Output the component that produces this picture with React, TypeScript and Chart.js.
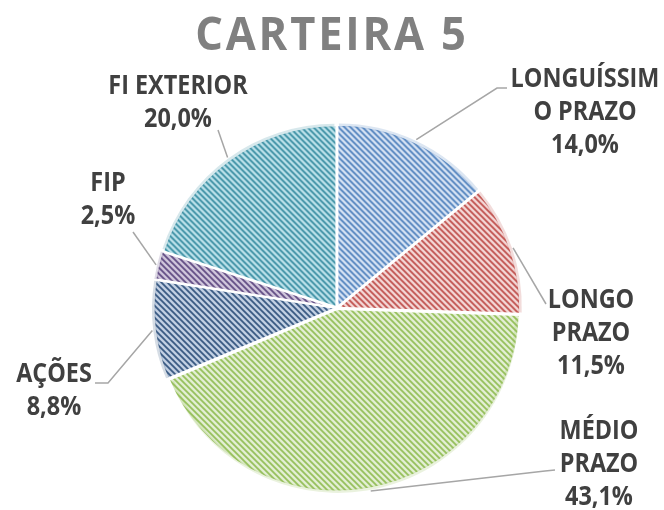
import React, { useEffect, useRef } from "react";
import { Chart, registerables } from "chart.js";

Chart.register(...registerables);

// ---- data ----
const titleText = "CARTEIRA 5";
const categories: string[][] = [
  ["LONGUÍSSIM", "O PRAZO"],
  ["LONGO", "PRAZO"],
  ["MÉDIO", "PRAZO"],
  ["AÇÕES"],
  ["FIP"],
  ["FI EXTERIOR"],
];
const values = [14.0, 11.5, 43.1, 8.8, 2.5, 20.0];

// ---- styles ----
const bgColors = ["#d8e4f4", "#f4d8d7", "#e5f0d6", "#c6d3e6", "#d3c9de", "#c0e4ec"];
const stripeColors = ["#4f81bd", "#c0504d", "#94bf58", "#34557f", "#5f4a82", "#358ba0"];

// label block centre and leader-line points, relative to pie centre (px)
const labelCenters: [number, number][] = [
  [248, -195],
  [254, 26],
  [262, 157],
  [-283, 83],
  [-229, -108],
  [-159, -205],
];
const leaderPoints: [number, number][][] = [
  [[160, -220], [170, -220]],
  [[209, -4]],
  [[208, 163], [218, 162]],
  [[-229, 75], [-242, 75]],
  [[-204, -76]],
  [[-119, -178]],
];

const PIE_OFFSET = 4;

function fmt(v: number) {
  return v.toFixed(1).replace(".", ",") + "%";
}

function makePattern(ctx: CanvasRenderingContext2D, bg: string, fg: string) {
  const s = 6;
  const c = document.createElement("canvas");
  c.width = s;
  c.height = s;
  const g = c.getContext("2d")!;
  g.fillStyle = bg;
  g.fillRect(0, 0, s, s);
  g.strokeStyle = fg;
  g.lineWidth = 1.8;
  g.beginPath();
  g.moveTo(-1, -1);
  g.lineTo(s + 1, s + 1);
  g.moveTo(-1, s - 1);
  g.lineTo(1, s + 1);
  g.moveTo(s - 1, -1);
  g.lineTo(s + 1, 1);
  g.stroke();
  return ctx.createPattern(c, "repeat")!;
}

const titlePlugin = {
  id: "customTitle",
  afterDraw(chart: any) {
    const ctx = chart.ctx as CanvasRenderingContext2D;
    ctx.save();
    ctx.fillStyle = "#808080";
    ctx.font = "bold 46px 'Open Sans'";
    (ctx as any).letterSpacing = "3px";
    ctx.textAlign = "center";
    ctx.textBaseline = "alphabetic";
    ctx.translate(332, 50);
    ctx.scale(0.945, 1);
    ctx.fillText(titleText, 0, 0);
    ctx.restore();
  },
};

const rimPlugin = {
  id: "rim",
  afterDatasetsDraw(chart: any) {
    const ctx = chart.ctx as CanvasRenderingContext2D;
    const meta = chart.getDatasetMeta(0);
    meta.data.forEach((arc: any, i: number) => {
      const p = arc.getProps(["x", "y", "startAngle", "endAngle", "outerRadius"], true);
      const mid = (p.startAngle + p.endAngle) / 2;
      const ox = p.x + Math.cos(mid) * PIE_OFFSET;
      const oy = p.y + Math.sin(mid) * PIE_OFFSET;
      const r = p.outerRadius - 1;
      ctx.save();
      ctx.beginPath();
      ctx.moveTo(ox, oy);
      ctx.arc(ox, oy, r, p.startAngle, p.endAngle);
      ctx.closePath();
      ctx.clip();
      ctx.globalAlpha = 0.2;
      ctx.strokeStyle = stripeColors[i];
      ctx.lineWidth = 7;
      ctx.beginPath();
      ctx.arc(ox, oy, r, p.startAngle, p.endAngle);
      ctx.stroke();
      ctx.restore();
    });
  },
};

const labelPlugin = {
  id: "outLabels",
  afterDatasetsDraw(chart: any) {
    const ctx = chart.ctx as CanvasRenderingContext2D;
    const meta = chart.getDatasetMeta(0);
    meta.data.forEach((arc: any, i: number) => {
      const p = arc.getProps(["x", "y", "startAngle", "endAngle", "outerRadius"], true);
      const mid = (p.startAngle + p.endAngle) / 2;
      const r = p.outerRadius + PIE_OFFSET;
      const sx = p.x + Math.cos(mid) * r;
      const sy = p.y + Math.sin(mid) * r;
      ctx.save();
      ctx.strokeStyle = "#a6a6a6";
      ctx.lineWidth = 1.5;
      ctx.beginPath();
      ctx.moveTo(sx, sy);
      leaderPoints[i].forEach(([dx, dy]) => ctx.lineTo(p.x + dx, p.y + dy));
      ctx.stroke();

      const lines = [...categories[i], fmt(values[i])];
      const lh = 33;
      const [cx, cy] = labelCenters[i];
      const x0 = p.x + cx;
      const yTop = p.y + cy - ((lines.length - 1) * lh) / 2;
      ctx.fillStyle = "#404040";
      ctx.font = "bold 26px 'Open Sans'";
      ctx.textAlign = "center";
      ctx.textBaseline = "middle";
      lines.forEach((t, k) => {
        ctx.save();
        ctx.translate(x0, yTop + k * lh);
        ctx.scale(0.9, 1);
        ctx.fillText(t, 0, 0);
        ctx.restore();
      });
      ctx.restore();
    });
  },
};

export default function App() {
  const ref = useRef<HTMLCanvasElement>(null);
  useEffect(() => {
    const canvas = ref.current!;
    const ctx = canvas.getContext("2d")!;
    const patterns = bgColors.map((b, i) => makePattern(ctx, b, stripeColors[i]));
    const chart = new Chart(canvas, {
      type: "pie",
      data: {
        labels: categories.map((c) => c.join("")),
        datasets: [
          {
            data: values,
            backgroundColor: patterns,
            borderColor: "#ffffff",
            borderWidth: 2,
            offset: PIE_OFFSET,
            radius: 182,
          } as any,
        ],
      },
      options: {
        responsive: false,
        animation: false,
        layout: { padding: { left: 150, right: 140, top: 120, bottom: 14 } },
        plugins: {
          legend: { display: false },
          tooltip: { enabled: false },
          title: { display: false },
        },
        events: [],
      },
      plugins: [titlePlugin, rimPlugin, labelPlugin],
    });
    return () => chart.destroy();
  }, []);
  return (
    <div style={{ position: "fixed", left: 0, top: 0, width: 664, height: 510, background: "#fff" }}>
      <canvas ref={ref} width={664} height={510} style={{ display: "block" }} />
    </div>
  );
}
